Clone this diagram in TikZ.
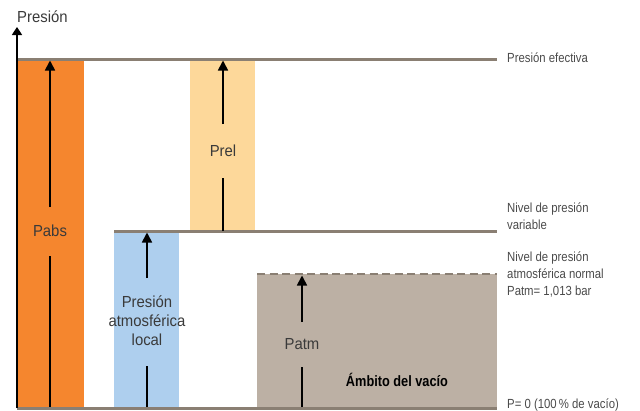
\documentclass[tikz,border=0pt]{standalone}
\usepackage{fontspec}
\setmainfont{Liberation Sans}
\newfontfamily\narrowfont[FakeStretch=0.93]{Liberation Sans}
\newfontfamily\sidefont[FakeStretch=0.86]{Liberation Sans}
\newfontfamily\boldnarrow[FakeStretch=0.85]{Liberation Sans Bold}
\usetikzlibrary{arrows.meta}
\definecolor{orangebar}{HTML}{F5862E}
\definecolor{yellowbar}{HTML}{FDD89A}
\definecolor{bluebar}{HTML}{AECFEE}
\definecolor{brownbar}{HTML}{BCB0A4}
\definecolor{levelgray}{HTML}{8A7F73}
\definecolor{txtdark}{HTML}{3A3A3A}
\definecolor{txtside}{HTML}{4A4A4A}
\tikzset{
  level/.style={draw=levelgray, line width=3pt},
  dashlevel/.style={draw=levelgray, line width=2.7pt, dash pattern=on 8pt off 4.5pt},
  shaft/.style={draw=black, line width=1.7pt},
  arrowup/.style={shaft, -{Triangle[width=10pt,length=10pt]}},
  inlabel/.style={text=txtdark, font=\narrowfont\fontsize{16}{19}\selectfont, inner sep=0pt, align=center},
  sidelabel/.style={text=txtside, font=\sidefont\fontsize{13.2}{17.2}\selectfont, inner sep=0pt, anchor=west, align=left},
}
\begin{document}
\begin{tikzpicture}[x=1pt,y=-1pt]
\useasboundingbox (0,0) rectangle (640,410);
% bars
\fill[orangebar] (18,60) rectangle (84,407);
\fill[yellowbar] (190,60) rectangle (255,231);
\fill[bluebar] (114,231) rectangle (179,407);
\fill[brownbar] (257,274) rectangle (497,407);
% level lines
\coordinate (topL) at (17,59);
\coordinate (topR) at (497,59);
\coordinate (midL) at (114,231);
\coordinate (midR) at (497,231);
\coordinate (atmL) at (257,274);
\coordinate (atmR) at (497,274);
\coordinate (botL) at (17,408);
\coordinate (botR) at (497,408);
\draw[level] (topL) -- (topR);
\draw[level] (midL) -- (midR);
\draw[dashlevel] (atmL) -- (atmR);
\draw[level] (botL) -- (botR);
% axis
\coordinate (axisBot) at (17,408);
\coordinate (axisTop) at (17,27);
\draw[line width=1.7pt, -{Triangle[width=10pt,length=8pt]}] (axisBot) -- (axisTop);
\node[text=txtdark, font=\narrowfont\fontsize{16}{19}\selectfont, inner sep=0pt, anchor=west] (axislabel) at (17,17) {Presión};
% Pabs
\node[inlabel] (pabs) at (50,231) {Pabs};
\coordinate (pabsB) at (50,407);
\coordinate (pabsL) at (50,256);
\coordinate (pabsU) at (50,207);
\coordinate (pabsT) at (50,60.5);
\draw[shaft] (pabsB) -- (pabsL);
\draw[arrowup] (pabsU) -- (pabsT);
% Prel
\node[inlabel] (prel) at (223,151) {Prel};
\coordinate (prelB) at (223,231);
\coordinate (prelL) at (223,178);
\coordinate (prelU) at (223,124);
\coordinate (prelT) at (223,60.5);
\draw[shaft] (prelB) -- (prelL);
\draw[arrowup] (prelU) -- (prelT);
% Presion atmosferica local
\node[inlabel] (local) at (147,321) {Presión\\atmosférica\\local};
\coordinate (locB) at (147,407);
\coordinate (locL) at (147,366);
\coordinate (locU) at (147,278);
\coordinate (locT) at (147,232.5);
\draw[shaft] (locB) -- (locL);
\draw[arrowup] (locU) -- (locT);
% Patm
\node[inlabel] (patm) at (302,344) {Patm};
\coordinate (patmB) at (302,407);
\coordinate (patmL) at (302,367);
\coordinate (patmU) at (302,322);
\coordinate (patmT) at (302,275.5);
\draw[shaft] (patmB) -- (patmL);
\draw[arrowup] (patmU) -- (patmT);
% vacuum label
\node[text=black, font=\boldnarrow\fontsize{15}{17}\selectfont, inner sep=0pt] (vacio) at (397,380) {Ámbito del vacío};
% side labels
\node[sidelabel] (efectiva) at (507,58) {Presión efectiva};
\node[sidelabel] (variable) at (507,216) {Nivel de presión\\variable};
\node[sidelabel] (normal) at (507,274.5) {Nivel de presión\\atmosférica normal\\Patm= 1,013 bar};
\node[sidelabel] (cero) at (507,405) {P= 0 (100\,\% de vacío)};
\end{tikzpicture}
\end{document}
